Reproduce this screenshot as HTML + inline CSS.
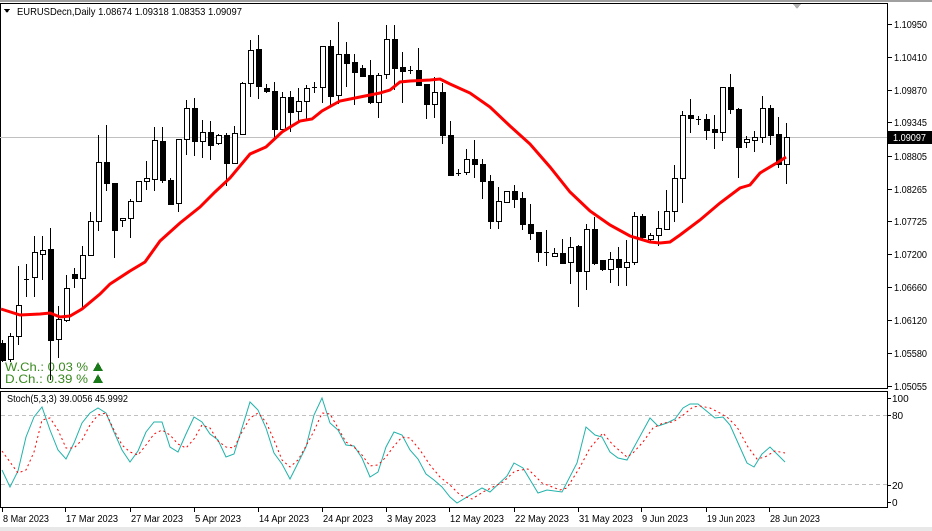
<!DOCTYPE html>
<html><head><meta charset="utf-8"><style>
html,body{margin:0;padding:0;background:#fff;width:932px;height:531px;overflow:hidden}
svg{display:block;font-family:"Liberation Sans",sans-serif}
</style></head><body>
<svg id="s" width="932" height="531" xmlns="http://www.w3.org/2000/svg" shape-rendering="crispEdges">
<rect x="0" y="0" width="932" height="531" fill="#fff"/>
<rect x="0" y="0" width="932" height="2" fill="#a0a0a0"/>
<rect x="0" y="527" width="932" height="4" fill="#e8e8e8"/>
<rect x="0.5" y="3.5" width="887" height="385" fill="none" stroke="#000"/>
<rect x="0.5" y="391.5" width="887" height="116" fill="none" stroke="#000"/>
<line x1="0" y1="137.5" x2="887" y2="137.5" stroke="#c0c0c0"/>
<line x1="1" y1="415.5" x2="887" y2="415.5" stroke="#c0c0c0" stroke-dasharray="4,3"/>
<line x1="1" y1="484.5" x2="887" y2="484.5" stroke="#c0c0c0" stroke-dasharray="4,3"/>
<polygon points="793,4 801,4 797,9" fill="#b0b0b0"/>
<polygon points="4,9 10,9 7,13" fill="#000"/>
<text x="17" y="15" font-size="10.5" fill="#000" textLength="225" lengthAdjust="spacingAndGlyphs">EURUSDecn,Daily  1.08674 1.09318 1.08353 1.09097</text>
<text x="7" y="402" font-size="10" fill="#000" textLength="121" lengthAdjust="spacingAndGlyphs">Stoch(5,3,3) 39.0056 45.9992</text>
<text x="5" y="371" font-size="12" fill="#3a8a20" textLength="83" lengthAdjust="spacingAndGlyphs">W.Ch.: 0.03 %</text>
<text x="5" y="383" font-size="12" fill="#3a8a20" textLength="83" lengthAdjust="spacingAndGlyphs">D.Ch.: 0.39 %</text>
<polygon points="93,371 103,371 98,362" fill="#1a7a1a"/>
<polygon points="93,383 103,383 98,374" fill="#1a7a1a"/>
<g id="cd"></g>
<g id="ax" font-size="10" fill="#000"></g>
<rect x="888" y="131" width="44" height="13" fill="#000"/>
<text x="893" y="141" font-size="10" fill="#fff" textLength="33" lengthAdjust="spacingAndGlyphs">1.09097</text>
</svg>
<script>
var NS="http://www.w3.org/2000/svg",g=document.getElementById('cd'),ax=document.getElementById('ax');
function el(t,a,p){var e=document.createElementNS(NS,t);for(var k in a)e.setAttribute(k,a[k]);(p||g).appendChild(e);return e;}
var C=[[2,343,360,340,362,'b'],[10,336,359,333,362,'w'],[18,305,336,266,345,'w'],[26,279,279,264,297,'c'],[34,252,277,236,297,'w'],[42,250,254,236,280,'w'],[50,249,340,228,380,'b'],[58,319,339,306,358,'w'],[66,288,320,275,322,'w'],[74,274,278,268,288,'b'],[82,255,278,246,308,'w'],[90,221,255,212,255,'w'],[98,162,221,135,231,'w'],[106,162,183,125,191,'b'],[114,183,230,183,258,'b'],[122,218,220,218,227,'w'],[130,201,218,199,238,'w'],[138,181,201,181,202,'w'],[146,178,181,161,190,'w'],[154,140,179,127,191,'w'],[162,141,180,127,183,'b'],[170,180,204,178,205,'b'],[178,139,203,139,212,'w'],[186,108,139,100,155,'w'],[194,108,141,98,156,'b'],[202,132,141,120,158,'w'],[210,132,145,121,160,'b'],[218,135,143,134,145,'w'],[226,135,163,133,186,'b'],[234,133,163,126,164,'w'],[242,83,134,82,134,'w'],[250,50,83,40,97,'w'],[258,49,86,35,99,'b'],[266,88,91,84,93,'b'],[274,91,129,82,138,'b'],[282,97,129,92,130,'w'],[290,97,112,91,132,'b'],[298,101,111,88,123,'w'],[306,88,101,85,120,'w'],[314,87,87,82,93,'c'],[322,46,87,46,103,'w'],[330,46,96,40,105,'b'],[338,54,95,22,104,'w'],[346,54,63,42,87,'b'],[354,62,72,54,105,'b'],[362,68,76,65,76,'b'],[370,75,102,60,104,'b'],[378,75,102,73,118,'w'],[386,39,74,25,79,'w'],[394,39,68,25,90,'b'],[402,67,71,52,103,'b'],[410,70,70,66,74,'c'],[418,70,85,48,85,'b'],[426,84,104,84,119,'b'],[434,92,104,77,118,'w'],[442,92,135,83,144,'b'],[450,135,175,121,176,'b'],[458,173,173,169,176,'c'],[466,159,172,149,175,'w'],[474,159,164,140,178,'b'],[482,164,181,159,199,'b'],[490,181,221,175,229,'b'],[498,201,221,187,229,'w'],[506,191,202,191,202,'w'],[514,191,199,185,208,'b'],[522,198,224,192,230,'b'],[530,224,233,204,240,'b'],[538,232,252,232,262,'b'],[546,252,252,230,266,'c'],[554,253,256,248,256,'w'],[562,253,263,239,264,'b'],[570,247,262,237,284,'w'],[578,246,271,245,307,'b'],[586,229,271,224,290,'w'],[594,229,263,217,265,'b'],[602,260,269,260,271,'b'],[610,259,269,252,283,'w'],[618,259,267,247,286,'b'],[626,262,267,240,286,'w'],[634,216,262,212,265,'w'],[642,216,237,214,241,'b'],[650,235,239,233,242,'w'],[658,228,235,211,246,'w'],[666,211,229,190,230,'w'],[674,178,211,165,222,'w'],[682,115,178,111,203,'w'],[690,115,118,99,133,'b'],[698,119,119,116,125,'c'],[706,119,130,114,140,'b'],[714,129,132,115,149,'b'],[722,87,132,87,141,'w'],[730,87,109,74,114,'b'],[738,109,147,108,178,'b'],[746,139,142,136,148,'w'],[754,137,140,131,152,'w'],[762,108,137,96,143,'w'],[770,108,135,105,145,'b'],[778,134,164,117,168,'b'],[786,137,164,123,184,'w']];
C.forEach(function(c){var x=c[0];
 el('line',{x1:x+.5,y1:c[3],x2:x+.5,y2:c[4],stroke:'#000'});
 if(c[5]=='c'){el('line',{x1:x-2,y1:c[1]+.5,x2:x+3,y2:c[1]+.5,stroke:'#000'});}
 else{var h=Math.max(c[2]-c[1],2);el('rect',{x:x-2+.5,y:c[1]+.5,width:5,height:h,fill:c[5]=='w'?'#fff':'#000',stroke:'#000'});}
});
var MA=[[1,309],[20,315],[40,314],[50,313],[60,317],[70,316],[82,309],[100,294],[110,284],[130,271],[145,262],[160,241],[180,223],[200,207],[215,192],[230,178],[250,154],[266,147],[282,132],[300,121],[312,119],[322,111],[340,101],[360,97],[380,93],[390,90],[400,82],[410,81],[430,80],[440,79],[450,84],[470,93],[490,107],[510,126],[530,144],[550,167],[570,192],[590,211],[610,225],[630,236],[650,242],[660,243],[670,242],[680,235],[700,220],[720,203],[740,188],[750,185],[760,173],[780,161],[786,157]];
el('polyline',{points:MA.map(function(p){return p.join(',')}).join(' '),fill:'none',stroke:'#f00','stroke-width':3,'shape-rendering':'auto'});
var K=[[2,470],[10,487],[18,471],[26,437],[34,417],[42,407],[50,430],[58,450],[66,459],[74,443],[82,423],[90,413],[98,408],[106,413],[114,432],[122,450],[130,462],[138,451],[146,432],[154,422],[162,422],[170,447],[178,452],[186,434],[194,417],[202,422],[210,434],[218,440],[226,457],[234,454],[250,402],[258,410],[266,428],[274,453],[282,464],[290,479],[298,463],[306,447],[314,415],[322,398],[330,423],[338,430],[346,445],[354,446],[362,458],[370,477],[378,472],[386,447],[394,432],[402,435],[410,450],[418,459],[426,474],[434,480],[442,487],[450,497],[457,503],[482,488],[490,492],[507,476],[514,463],[523,468],[538,493],[547,490],[562,492],[577,463],[586,427],[595,435],[602,437],[610,452],[618,458],[627,460],[650,418],[658,426],[667,423],[675,419],[683,408],[690,404],[698,404],[715,418],[723,417],[730,425],[747,463],[754,467],[762,454],[770,447],[785,462]];
var D=[[2,451],[10,462],[18,473],[26,470],[34,452],[42,420],[50,418],[58,430],[66,448],[74,448],[82,440],[90,425],[98,415],[106,413],[114,430],[122,445],[130,452],[138,455],[146,445],[154,434],[162,430],[170,435],[178,444],[186,448],[194,439],[202,425],[210,428],[218,441],[226,447],[234,448],[242,432],[250,418],[258,413],[266,422],[274,440],[282,460],[290,467],[298,460],[306,446],[314,431],[322,413],[330,414],[338,428],[346,442],[354,447],[362,455],[370,466],[378,465],[386,457],[394,446],[402,437],[410,438],[420,450],[430,465],[440,477],[450,485],[460,495],[472,499],[483,492],[503,482],[515,471],[528,469],[542,483],[560,490],[567,488],[580,467],[590,448],[603,433],[613,445],[627,457],[633,453],[643,442],[653,428],[663,423],[673,422],[682,416],[693,407],[700,406],[710,408],[720,413],[728,418],[737,427],[748,447],[757,459],[765,457],[775,451],[785,453]];
el('polyline',{points:K.map(function(p){return p.join(',')}).join(' '),fill:'none',stroke:'#20b2aa','stroke-width':1,'shape-rendering':'auto'});
el('polyline',{points:D.map(function(p){return p.join(',')}).join(' '),fill:'none',stroke:'#f00','stroke-width':1,'stroke-dasharray':'2,3','shape-rendering':'auto'});
var P=[['1.10950',24],['1.10410',57],['1.09870',90],['1.09345',122],['1.08805',156],['1.08265',189],['1.07725',221],['1.07200',254],['1.06660',287],['1.06120',320],['1.05580',353],['1.05055',386]];
P.forEach(function(p){el('line',{x1:888,y1:p[1]+.5,x2:892,y2:p[1]+.5,stroke:'#000'},ax);var t=el('text',{x:894,y:p[1]+4,textLength:33,lengthAdjust:'spacingAndGlyphs'},ax);t.textContent=p[0];});
[['100',398],['80',415],['20',485],['0',502]].forEach(function(p){el('line',{x1:888,y1:p[1]+.5,x2:891,y2:p[1]+.5,stroke:'#000'},ax);var t=el('text',{x:892,y:p[1]+4},ax);t.textContent=p[0];});
[['8 Mar 2023',2,46],['17 Mar 2023',65,52],['27 Mar 2023',130,52],['5 Apr 2023',194,46],['14 Apr 2023',258,50],['24 Apr 2023',322,50],['3 May 2023',386,49],['12 May 2023',449,54],['22 May 2023',514,54],['31 May 2023',578,54],['9 Jun 2023',641,46],['19 Jun 2023',706,48],['28 Jun 2023',769,50]].forEach(function(d){el('line',{x1:d[1]+.5,y1:508,x2:d[1]+.5,y2:512,stroke:'#000'},ax);var t=el('text',{x:d[1]+1,y:522,textLength:d[2],lengthAdjust:'spacingAndGlyphs'},ax);t.textContent=d[0];});
</script>
</body></html>
